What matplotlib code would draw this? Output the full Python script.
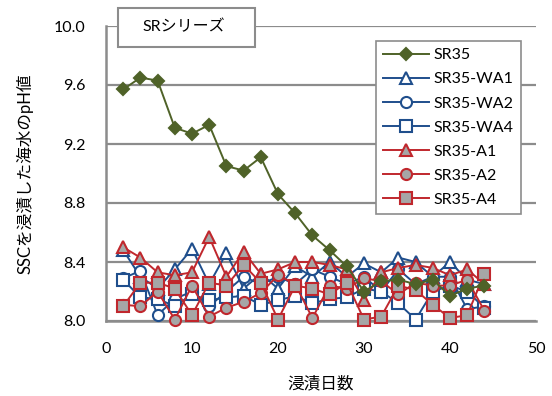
import matplotlib
matplotlib.use("Agg")
import matplotlib.pyplot as plt
from matplotlib.patches import Rectangle

plt.rcParams['font.family'] = ['Lato', 'Noto Sans CJK JP', 'DejaVu Sans']

days = [2, 4, 6, 8, 10, 12, 14, 16, 18, 20, 22, 24, 26, 28, 30, 32, 34, 36, 38, 40, 42, 44]

sr35 = [9.57, 9.65, 9.63, 9.31, 9.27, 9.33, 9.05, 9.02, 9.11, 8.86, 8.73, 8.58,
        8.48, 8.37, 8.20, 8.27, 8.28, 8.25, 8.28, 8.17, 8.22, 8.24]
sr35_wa1 = [8.48, 8.30, 8.22, 8.35, 8.49, 8.25, 8.46, 8.22, 8.32, 8.22, 8.37, 8.30,
            8.40, 8.30, 8.39, 8.33, 8.43, 8.40, 8.30, 8.40, 8.28, 8.25]
sr35_wa2 = [8.29, 8.34, 8.04, 8.15, 8.20, 8.10, 8.20, 8.30, 8.25, 8.30, 8.25, 8.35,
            8.30, 8.25, 8.30, 8.20, 8.35, 8.25, 8.30, 8.30, 8.08, 8.10]
sr35_wa4 = [8.28, 8.16, 8.15, 8.10, 8.18, 8.14, 8.16, 8.17, 8.11, 8.14, 8.17, 8.12,
            8.15, 8.16, 8.22, 8.20, 8.12, 8.01, 8.20, 8.24, 8.20, 8.09]
sr35_a1 = [8.50, 8.43, 8.33, 8.31, 8.33, 8.57, 8.30, 8.47, 8.32, 8.35, 8.40, 8.40,
           8.38, 8.35, 8.14, 8.33, 8.36, 8.38, 8.36, 8.31, 8.35, 8.25]
sr35_a2 = [8.11, 8.10, 8.20, 8.01, 8.24, 8.03, 8.09, 8.13, 8.19, 8.31, 8.25, 8.02,
           8.24, 8.22, 8.29, 8.27, 8.18, 8.26, 8.24, 8.24, 8.28, 8.07]
sr35_a4 = [8.10, 8.26, 8.26, 8.22, 8.04, 8.26, 8.24, 8.38, 8.26, 8.01, 8.24, 8.22,
           8.18, 8.26, 8.01, 8.03, 8.24, 8.21, 8.11, 8.02, 8.04, 8.32]

series_names = ['SR35', 'SR35-WA1', 'SR35-WA2', 'SR35-WA4', 'SR35-A1', 'SR35-A2', 'SR35-A4']
x_ticks = [0, 10, 20, 30, 40, 50]
y_ticks = [8.0, 8.4, 8.8, 9.2, 9.6, 10.0]

green = '#4F6228'
blue = '#1F4E8C'
red = '#C0272D'
gray = '#A6A6A6'
grid_gray = '#8C8C8C'

fig = plt.figure(figsize=(5.52, 3.96), dpi=100)
ax = fig.add_axes([106 / 552, 1 - 321 / 396, 430 / 552, 295 / 396])

styles = [
    dict(color=green, marker='D', mfc=green, mec=green, ms=6.5),
    dict(color=blue, marker='^', mfc='white', mec=blue, ms=8.5),
    dict(color=blue, marker='o', mfc='white', mec=blue, ms=8),
    dict(color=blue, marker='s', mfc='white', mec=blue, ms=8),
    dict(color=red, marker='^', mfc=gray, mec=red, ms=8.5),
    dict(color=red, marker='o', mfc=gray, mec=red, ms=8),
    dict(color=red, marker='s', mfc=gray, mec=red, ms=8),
]
data = [sr35, sr35_wa1, sr35_wa2, sr35_wa4, sr35_a1, sr35_a2, sr35_a4]

order = [1, 2, 3, 4, 5, 6, 0]
lines = {}
for i in order:
    st = styles[i]
    ln, = ax.plot(days, data[i], lw=1.4, mew=1.5, label=series_names[i],
                  zorder=3 + (1 if i == 0 else 0), clip_on=False, **st)
    lines[i] = ln

ax.set_xlim(0, 50)
ax.set_ylim(8.0, 10.0)
ax.set_xticks(x_ticks)
ax.set_yticks(y_ticks)
ax.set_yticklabels([f'{v:.1f}' for v in y_ticks])
ax.tick_params(axis='both', length=0, labelsize=11.5, colors='black')
ax.tick_params(axis='y', pad=15)
ax.tick_params(axis='x', pad=15)
ax.yaxis.grid(True, color=grid_gray, lw=1.6)
ax.set_axisbelow(True)
for s in ['top', 'right']:
    ax.spines[s].set_visible(False)
for s in ['left', 'bottom']:
    ax.spines[s].set_color(grid_gray)
    ax.spines[s].set_linewidth(1.8)

ax.set_xlabel('浸漬日数', fontsize=12, labelpad=14)
ax.set_ylabel('SSCを浸漬した海水のpH値', fontsize=12, labelpad=14)

leg = ax.legend([lines[i] for i in range(7)], series_names,
                loc='upper right', bbox_to_anchor=(529 / 552, 1 - 33 / 396),
                bbox_transform=fig.transFigure, fontsize=11.5, frameon=True,
                fancybox=False, edgecolor=grid_gray, framealpha=1,
                handlelength=2.9, handletextpad=0.3, labelspacing=0.62,
                borderpad=0.45)
leg.get_frame().set_linewidth(1.2)
leg.set_zorder(10)

# series title in a boxed label over the top-left of the plot
fig.add_artist(Rectangle((118 / 552, 1 - 47 / 396), 137 / 552, 39 / 396,
                         transform=fig.transFigure, fc='white', ec=grid_gray,
                         lw=1.5, zorder=9))
fig.text(184 / 552, 1 - 27 / 396, 'SRシリーズ', ha='center', va='center',
         fontsize=11.5, zorder=10)

fig.savefig('out.png', dpi=100)
